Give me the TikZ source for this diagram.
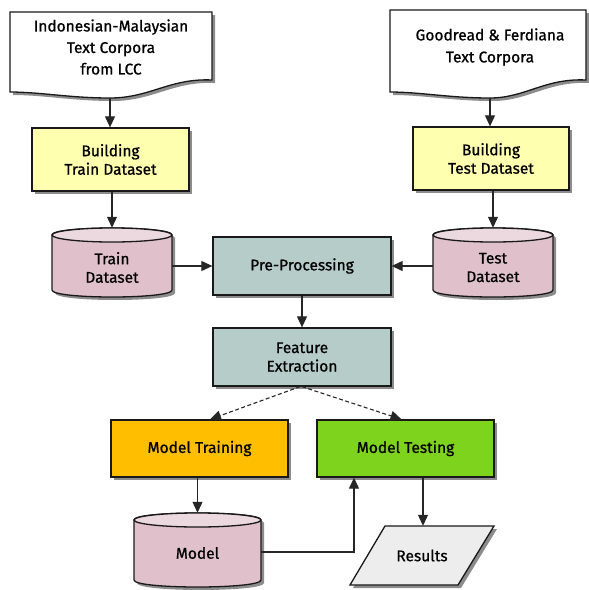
\documentclass[tikz,border=0pt]{standalone}
\usepackage{fontspec}
\setmainfont{Fira Sans}[BoldFont=Fira Sans, BoldFeatures={FakeBold=0.8}]
\usetikzlibrary{arrows.meta,calc,shadows}
\definecolor{ylw}{HTML}{FFFFB0}
\definecolor{pinkbody}{HTML}{DFC0CB}
\definecolor{pinktop}{HTML}{ECD8DF}
\definecolor{teal}{HTML}{B5CCC8}
\definecolor{orng}{HTML}{FFBF00}
\definecolor{grn}{HTML}{7ED31D}
\definecolor{resgray}{HTML}{EDEDED}
\tikzset{
  shad/.style={drop shadow={shadow xshift=3pt, shadow yshift=-3pt, fill=black!45, opacity=1}},
  outline/.style={draw=black!90, line width=1.3pt},
  box/.style={outline, shad, rectangle, inner sep=0pt, align=center},
  arr/.style={-{Triangle[width=10pt,length=11pt]}, line width=1.1pt, draw=black!85},
  darr/.style={arr, dashed, dash pattern=on 4pt off 2.5pt},
  lbl/.style={align=center, inner sep=0pt},
}
\newcommand\mycyl[7]{% name, cx, cy, w, h, text, text shift
  \pgfmathsetmacro\cyLft{#2-#4/2}
  \pgfmathsetmacro\cyRgt{#2+#4/2}
  \pgfmathsetmacro\cyTop{#3-#5/2+7}
  \pgfmathsetmacro\cyBot{#3+#5/2-7}
  \filldraw[outline, shad, fill=pinkbody] (\cyLft,\cyTop) -- (\cyLft,\cyBot)
     .. controls (\cyLft,\cyBot+9.33) and (\cyRgt,\cyBot+9.33) .. (\cyRgt,\cyBot)
     -- (\cyRgt,\cyTop)
     .. controls (\cyRgt,\cyTop-9.33) and (\cyLft,\cyTop-9.33) .. cycle;
  \filldraw[outline, fill=pinktop] (#2,\cyTop) ellipse [x radius=#4/2, y radius=7];
  \node[minimum width=#4pt, minimum height=#5pt, inner sep=0pt] (#1) at (#2,#3) {};
  \node[lbl] (#1-t) at (#2,#3+#7) {#6};
}
\begin{document}
\begin{tikzpicture}[x=1pt,y=-1pt, font=\fontsize{15.5}{18.5}\selectfont\bfseries]
\useasboundingbox (0,0) rectangle (589,590);

% documents
\filldraw[outline, shad, fill=white] (10,12) -- (212,12) -- (212,80)
  .. controls (170,78) and (150,98) .. (110,98)
  .. controls (70,98) and (40,92) .. (10,92) -- cycle;
\node[lbl, font=\fontsize{15.5}{21.5}\selectfont\bfseries] (doc1) at (111,47) {Indonesian-Malaysian\\Text Corpora\\from LCC};
\coordinate (d1b) at (110,98);

\filldraw[outline, shad, fill=white] (390,10) -- (586,10) -- (586,80)
  .. controls (545,78) and (525,98) .. (490,98)
  .. controls (450,98) and (420,92) .. (390,92) -- cycle;
\node[lbl, font=\fontsize{15.5}{22}\selectfont\bfseries] (doc2) at (490,47) {Goodread \& Ferdiana\\Text Corpora};
\coordinate (d2b) at (490,98);

% boxes
\node[box, fill=ylw, minimum width=157pt, minimum height=63pt] (btrain) at (110.5,159.5) {Building\\Train Dataset};
\node[box, fill=ylw, minimum width=156pt, minimum height=63pt] (btest) at (491,158.5) {Building\\Test Dataset};
\node[box, fill=teal, minimum width=178pt, minimum height=58pt] (prep) at (302,266) {Pre-Processing};
\node[box, fill=teal, minimum width=178pt, minimum height=58pt] (feat) at (302,357) {Feature\\Extraction};
\node[box, fill=orng, minimum width=177pt, minimum height=57pt] (mtrain) at (199.5,448.5) {Model Training};
\node[box, fill=grn, minimum width=177pt, minimum height=57pt] (mtest) at (405.5,448.5) {Model Testing};

% cylinders
\mycyl{trainds}{112}{262.5}{120}{69}{Train\\Dataset}{5}
\mycyl{testds}{493}{262.5}{120}{69}{Test\\Dataset}{5}
\mycyl{model}{197.5}{550}{127}{74}{Model}{3}

% results
\filldraw[outline, shad, fill=resgray] (385,526) -- (494,526) -- (458,585) -- (350,585) -- cycle;
\node[minimum width=144pt, minimum height=59pt, inner sep=0pt] (results) at (423,555.5) {};
\node[lbl] (results-t) at (422,555.5) {Results};

% connectors
\draw[arr] (d1b) -- (d1b |- btrain.north);
\draw[arr] (d2b) -- (d2b |- btest.north);
\draw[arr] (btrain.south -| trainds.north) -- (trainds.north);
\draw[arr] (btest.south -| testds.north) -- (testds.north);
\draw[arr] (trainds.east |- prep.west) -- (prep.west);
\draw[arr] (testds.west |- prep.east) -- (prep.east);
\draw[arr] (prep.south) -- (feat.north);
\draw[darr] ([xshift=-2pt]feat.south) -- ([xshift=10.5pt]mtrain.north);
\draw[darr] (feat.south) -- ([xshift=-4pt]mtest.north);
\draw[arr] (mtrain.south -| model.north) -- (model.north);
\draw[arr] (model.east |- 0,552) -| ([xshift=-51.5pt]mtest.south);
\draw[arr] (mtest.south -| results.north) -- (results.north);
\end{tikzpicture}
\end{document}
